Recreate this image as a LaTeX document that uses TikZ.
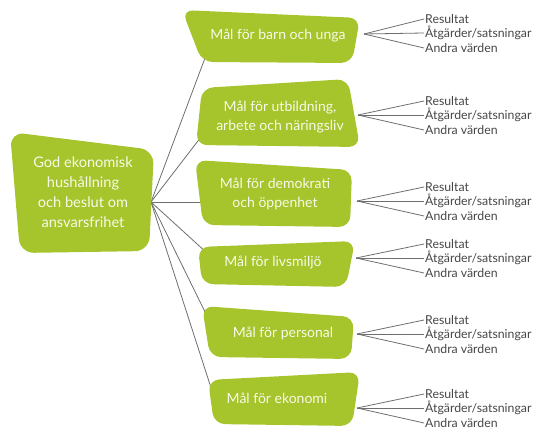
\documentclass[tikz,border=0pt]{standalone}
\usepackage{fontspec}
\setmainfont{Lato}
\definecolor{goalgreen}{RGB}{166,196,44}
\definecolor{goaltext}{RGB}{248,250,232}
\definecolor{linkgray}{RGB}{110,110,110}
\definecolor{labelgray}{RGB}{70,70,70}

\begin{document}
\begin{tikzpicture}[x=1pt, y=-1pt]
	\tikzstyle{goalbox} = [fill=goalgreen, rounded corners=11pt]
	\tikzstyle{goaltxt} = [text=goaltext, align=center, inner sep=0pt, font=\fontsize{14}{19.5}\selectfont]
	\tikzstyle{outtxt} = [text=labelgray, anchor=west, inner sep=1pt, font=\fontsize{12.3}{13}\selectfont]
	\tikzstyle{link} = [draw=linkgray, line width=0.8pt]
	\useasboundingbox (0,0) rectangle (536,430);

	% where the connectors meet the boxes
	\coordinate (hub) at (151,202);
	\coordinate (M1in) at (205,58);
	\coordinate (M2in) at (201,137);
	\coordinate (M3in) at (203,202);
	\coordinate (M4in) at (207,253);
	\coordinate (M5in) at (208,318);
	\coordinate (M6in) at (214,397);
	\coordinate (M1out) at (364,34);
	\coordinate (M2out) at (358,115);
	\coordinate (M3out) at (357,201);
	\coordinate (M4out) at (356,258);
	\coordinate (M5out) at (357,334);
	\coordinate (M6out) at (357,408);

	\draw [link] (hub)--(M1in);
	\draw [link] (hub)--(M2in);
	\draw [link] (hub)--(M3in);
	\draw [link] (hub)--(M4in);
	\draw [link] (hub)--(M5in);
	\draw [link] (hub)--(M6in);

	% boxes
	\fill [goalbox, rounded corners=14pt] (10,132) -- (154,150) -- (149,251) -- (20,253) -- cycle;
	\fill [goalbox] (182,10) -- (360,18) -- (352,63) -- (202,62) -- cycle;
	\fill [goalbox] (202,88) -- (348,79) -- (360,147) -- (196,145) -- cycle;
	\fill [goalbox] (195,160) -- (352,170) -- (350,227) -- (203,225) -- cycle;
	\fill [goalbox] (198,247) -- (355,241) -- (346,287) -- (202,284) -- cycle;
	\fill [goalbox] (202,306) -- (354,317) -- (351,359) -- (210,357) -- cycle;
	\fill [goalbox] (208,380) -- (360,372) -- (352,426) -- (214,424) -- cycle;

	\node [goaltxt, font=\fontsize{14.6}{19.8}\selectfont] (G0) at (83,192) {God ekonomisk\\hushållning\\och beslut om\\ansvarsfrihet};
	\node [goaltxt] (M1) at (278,36) {Mål för barn och unga};
	\node [goaltxt] (M2) at (280,117) {Mål för utbildning,\\arbete och näringsliv};
	\node [goaltxt] (M3) at (275,194) {Mål för demokrati\\och öppenhet};
	\node [goaltxt] (M4) at (273,263) {Mål för livsmiljö};
	\node [goaltxt] (M5) at (283,333) {Mål för personal};
	\node [goaltxt] (M6) at (277,398) {Mål för ekonomi};

	% result labels
	\node [outtxt] (R1) at (424,19) {Resultat};
	\node [outtxt] (A1) at (424,33) {Åtgärder/satsningar};
	\node [outtxt] (V1) at (424,48) {Andra värden};
	\node [outtxt] (R2) at (424,101) {Resultat};
	\node [outtxt] (A2) at (424,115) {Åtgärder/satsningar};
	\node [outtxt] (V2) at (424,130) {Andra värden};
	\node [outtxt] (R3) at (424,187) {Resultat};
	\node [outtxt] (A3) at (424,201) {Åtgärder/satsningar};
	\node [outtxt] (V3) at (424,216) {Andra värden};
	\node [outtxt] (R4) at (424,244) {Resultat};
	\node [outtxt] (A4) at (424,258) {Åtgärder/satsningar};
	\node [outtxt] (V4) at (424,273) {Andra värden};
	\node [outtxt] (R5) at (424,320) {Resultat};
	\node [outtxt] (A5) at (424,334) {Åtgärder/satsningar};
	\node [outtxt] (V5) at (424,349) {Andra värden};
	\node [outtxt] (R6) at (424,394) {Resultat};
	\node [outtxt] (A6) at (424,408) {Åtgärder/satsningar};
	\node [outtxt] (V6) at (424,423) {Andra värden};

	\draw [link] (M1out)--(R1.west);
	\draw [link] (M1out)--(A1.west);
	\draw [link] (M1out)--(V1.west);
	\draw [link] (M2out)--(R2.west);
	\draw [link] (M2out)--(A2.west);
	\draw [link] (M2out)--(V2.west);
	\draw [link] (M3out)--(R3.west);
	\draw [link] (M3out)--(A3.west);
	\draw [link] (M3out)--(V3.west);
	\draw [link] (M4out)--(R4.west);
	\draw [link] (M4out)--(A4.west);
	\draw [link] (M4out)--(V4.west);
	\draw [link] (M5out)--(R5.west);
	\draw [link] (M5out)--(A5.west);
	\draw [link] (M5out)--(V5.west);
	\draw [link] (M6out)--(R6.west);
	\draw [link] (M6out)--(A6.west);
	\draw [link] (M6out)--(V6.west);
\end{tikzpicture}
\end{document}
